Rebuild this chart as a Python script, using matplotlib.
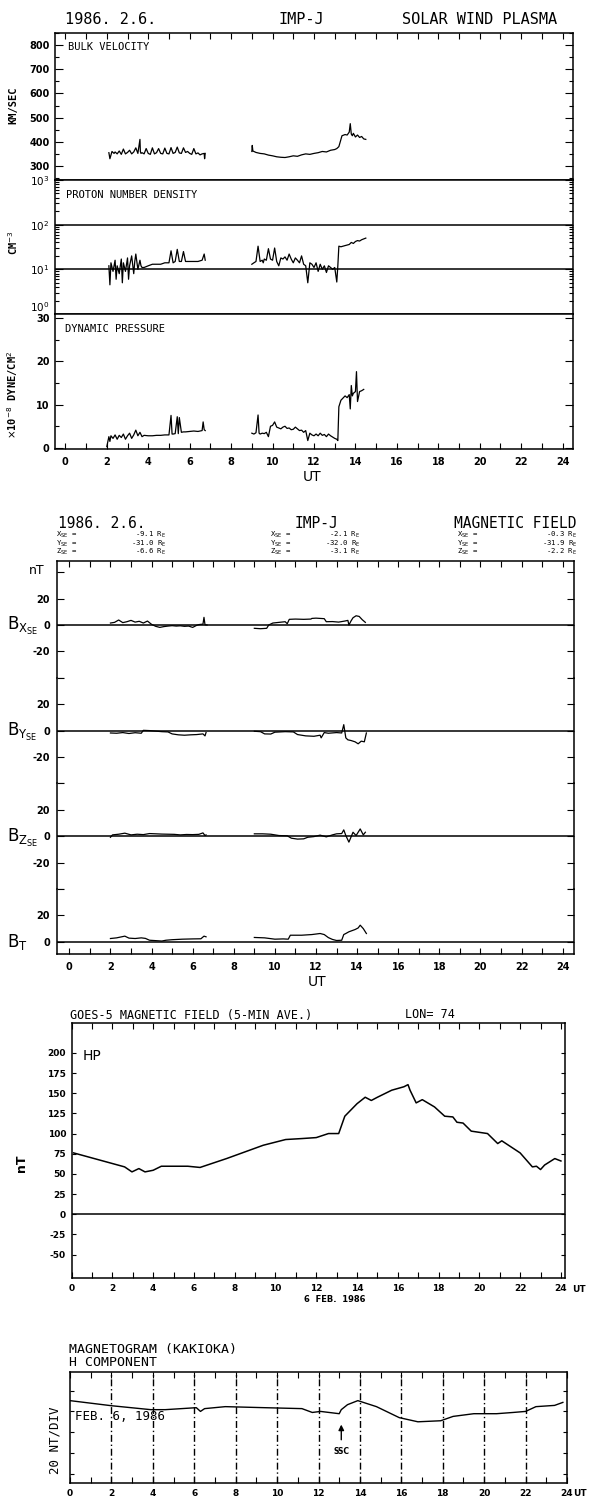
import numpy as np
import matplotlib.pyplot as plt
import matplotlib.transforms as mtransforms
from matplotlib.ticker import MultipleLocator, LogLocator, NullFormatter

plt.rcParams['font.family'] = 'DejaVu Sans'
plt.rcParams['axes.linewidth'] = 1.1
plt.rcParams['xtick.direction'] = 'in'
plt.rcParams['ytick.direction'] = 'in'

MONO = 'DejaVu Sans Mono'

# ---------------- IMP-J solar wind plasma (UT hours) ----------------
vel_t1 = [2.10, 2.15, 2.25, 2.35, 2.40, 2.50, 2.60, 2.70, 2.80, 2.90,
          3.00, 3.10, 3.20, 3.30, 3.40, 3.50, 3.60, 3.62, 3.65, 3.70,
          3.80, 3.90, 4.00, 4.10, 4.20, 4.30, 4.40, 4.50, 4.60, 4.70,
          4.80, 4.90, 5.00, 5.10, 5.20, 5.30, 5.40, 5.50, 5.60, 5.70,
          5.80, 5.90, 6.00, 6.10, 6.20, 6.30, 6.40, 6.50, 6.60, 6.70, 6.72, 6.75]
vel1 = [355, 330, 360, 352, 358, 350, 362, 348, 370, 350,
        356, 365, 350, 358, 375, 352, 410, 360, 352, 355,
        350, 372, 352, 348, 375, 350, 355, 372, 352, 350,
        374, 352, 350, 376, 352, 356, 378, 354, 352, 375,
        356, 360, 352, 348, 372, 350, 354, 346, 350, 352, 330, 352]
vel_t2 = [9.00, 9.02, 9.05, 9.2, 9.4, 9.6, 9.8, 10.0, 10.2, 10.4,
          10.6, 10.8, 11.0, 11.2, 11.4, 11.6, 11.8, 12.0, 12.2, 12.4,
          12.6, 12.8, 13.0, 13.1, 13.2, 13.3, 13.35, 13.5, 13.6, 13.7,
          13.75, 13.8, 13.85, 13.9, 14.0, 14.1, 14.2, 14.3, 14.4, 14.5]
vel2 = [360, 385, 362, 356, 352, 350, 345, 342, 338, 336,
        335, 338, 342, 340, 346, 350, 348, 352, 355, 360,
        358, 365, 368, 372, 380, 410, 425, 430, 428, 440,
        475, 432, 425, 435, 420, 428, 418, 422, 412, 410]

dens_t1 = [2.10, 2.15, 2.2, 2.3, 2.4, 2.45, 2.5, 2.6, 2.7, 2.75,
           2.8, 2.9, 3.0, 3.05, 3.1, 3.2, 3.3, 3.35, 3.4, 3.5,
           3.6, 3.65, 3.7, 3.8, 4.0, 4.2, 4.4, 4.6, 4.8, 4.9,
           5.0, 5.1, 5.2, 5.3, 5.4, 5.5, 5.6, 5.7, 5.8, 6.0,
           6.2, 6.4, 6.6, 6.7, 6.75]
dens1 = [12, 4.5, 14, 9, 16, 6, 12, 8, 17, 5,
         14, 9, 18, 6, 12, 20, 8, 15, 22, 10,
         16, 12, 11, 11, 12, 13, 13, 13, 14, 14,
         14, 26, 14, 15, 28, 15, 15, 25, 15, 15,
         15, 15, 16, 22, 16]
dens_t2 = [9.0, 9.1, 9.2, 9.3, 9.4, 9.5, 9.55, 9.6, 9.7, 9.8,
           9.9, 10.0, 10.1, 10.2, 10.3, 10.4, 10.5, 10.6, 10.7, 10.8,
           10.9, 11.0, 11.1, 11.2, 11.3, 11.4, 11.5, 11.6, 11.7, 11.8,
           11.9, 12.0, 12.1, 12.2, 12.3, 12.4, 12.5, 12.6, 12.7, 12.8,
           12.9, 13.0, 13.1, 13.15, 13.2, 13.3, 13.5, 13.7, 13.8, 13.9,
           14.0, 14.1, 14.2, 14.3, 14.4, 14.5]
dens2 = [13, 14, 15, 33, 15, 16, 14, 17, 16, 29,
         17, 16, 30, 15, 12, 18, 17, 19, 16, 22,
         17, 14, 18, 16, 14, 20, 13, 12, 5, 14,
         13, 11, 14, 9, 13, 10, 12, 8.5, 12, 11,
         10, 11, 5.2, 12, 33, 32, 34, 36, 40, 38,
         42, 44, 43, 46, 48, 50]

pres_t1 = [2.0, 2.1, 2.15, 2.2, 2.3, 2.4, 2.5, 2.6, 2.7, 2.8,
           2.9, 3.0, 3.1, 3.2, 3.3, 3.4, 3.5, 3.6, 3.7, 3.8,
           4.0, 4.2, 4.4, 4.6, 4.8, 5.0, 5.1, 5.15, 5.2, 5.3,
           5.4, 5.45, 5.5, 5.6, 5.7, 5.8, 6.0, 6.2, 6.4, 6.6,
           6.65, 6.7, 6.75]
pres1 = [0.3, 2.6, 1.5, 2.8, 2.2, 3.0, 2.0, 2.9, 2.4, 3.2,
         2.0, 2.8, 3.4, 2.2, 3.0, 4.1, 2.8, 3.6, 2.6, 2.9,
         2.8, 2.8, 2.9, 2.9, 3.0, 3.0, 7.5, 3.2, 3.2, 3.3,
         7.2, 3.3, 7.0, 3.6, 3.7, 3.7, 3.8, 3.9, 3.8, 4.0,
         6.0, 4.2, 4.0]
pres_t2 = [9.0, 9.1, 9.2, 9.3, 9.35, 9.4, 9.5, 9.6, 9.7, 9.8,
           9.9, 10.0, 10.1, 10.2, 10.3, 10.4, 10.5, 10.6, 10.7, 10.8,
           10.9, 11.0, 11.1, 11.2, 11.3, 11.4, 11.5, 11.6, 11.7, 11.8,
           11.9, 12.0, 12.1, 12.2, 12.3, 12.4, 12.5, 12.6, 12.7, 12.8,
           12.9, 13.0, 13.1, 13.15, 13.2, 13.3, 13.4, 13.5, 13.6, 13.7,
           13.75, 13.8, 13.85, 13.9, 14.0, 14.05, 14.1, 14.2, 14.3, 14.4]
pres2 = [3.4, 3.2, 3.5, 7.6, 3.4, 3.2, 3.4, 3.3, 3.6, 2.6,
         5.0, 5.2, 6.0, 4.8, 4.6, 4.4, 4.8, 5.0, 4.5, 4.6,
         4.2, 4.3, 4.8, 4.4, 4.0, 4.1, 3.6, 4.0, 1.7, 3.4,
         3.0, 2.8, 3.2, 2.8, 3.4, 2.9, 3.1, 2.6, 3.2, 2.8,
         2.5, 2.2, 2.0, 1.7, 9.5, 11.0, 11.5, 12.0, 11.6, 12.3,
         9.0, 14.4, 12.0, 12.6, 13.0, 17.6, 10.7, 13.0, 13.2, 13.5]

# ---------------- IMP-J magnetic field (nT) ----------------
bx_t1 = [2.0, 2.2, 2.4, 2.6, 2.8, 3.0, 3.2, 3.4, 3.6, 3.8,
         4.0, 4.2, 4.4, 4.6, 4.8, 5.0, 5.2, 5.4, 5.6, 5.8,
         6.0, 6.2, 6.3, 6.4, 6.5, 6.55, 6.6, 6.7]
bx1 = [1.5, 2.0, 3.8, 1.8, 2.5, 3.5, 2.2, 2.8, 1.5, 3.0,
       0.5, -1.0, -1.8, -1.2, -0.8, -0.5, -0.8, -0.6, -1.0, -0.8,
       -1.8, -0.2, 0.3, 0.5, 0.6, 5.8, 0.2, 0.0]
bx_t2 = [9.0, 9.3, 9.6, 9.7, 9.9, 10.2, 10.5, 10.6, 10.7, 11.0,
         11.4, 11.75, 11.8, 12.0, 12.2, 12.4, 12.5, 12.8, 13.1, 13.4,
         13.55, 13.6, 13.7, 13.8, 13.95, 14.1, 14.25, 14.4]
bx2 = [-2.5, -2.8, -2.5, 0.0, 1.5, 2.0, 2.5, 1.0, 4.3, 4.5,
       4.3, 4.5, 5.0, 5.2, 5.0, 4.8, 2.5, 2.6, 2.2, 3.0,
       3.5, 0.0, 3.0, 5.5, 7.0, 6.5, 4.0, 2.0]

by_t1 = [2.0, 2.3, 2.6, 2.9, 3.2, 3.5, 3.6, 3.9, 4.2, 4.5,
         4.8, 5.0, 5.3, 5.6, 5.9, 6.2, 6.5, 6.6, 6.65]
by1 = [-1.8, -2.0, -1.5, -2.2, -1.6, -2.0, 0.2, 0.0, -0.4, -0.8,
       -1.0, -2.5, -3.2, -3.5, -3.2, -3.0, -2.5, -4.0, -1.5]
by_t2 = [9.0, 9.3, 9.5, 9.8, 10.0, 10.5, 10.9, 11.1, 11.5, 11.9,
         12.2, 12.25, 12.4, 12.6, 13.0, 13.25, 13.35, 13.45, 13.55, 13.7,
         13.9, 14.05, 14.2, 14.35, 14.45]
by2 = [-0.5, -0.8, -2.5, -2.6, -1.2, -0.8, -1.0, -3.0, -4.0, -4.3,
       -3.5, -5.5, -1.5, -2.0, -1.5, -1.8, 4.5, -5.5, -7.0, -7.5,
       -8.5, -10.0, -8.0, -8.5, -1.8]

bz_t1 = [2.0, 2.1, 2.4, 2.7, 3.0, 3.3, 3.6, 3.9, 4.2, 4.5,
         4.8, 5.1, 5.4, 5.7, 6.0, 6.3, 6.5, 6.6, 6.65]
bz1 = [-0.8, 1.0, 1.5, 2.3, 1.0, 1.5, 1.2, 2.0, 1.8, 1.6,
       1.5, 1.4, 1.0, 1.3, 1.2, 1.4, 2.5, 0.5, 1.0]
bz_t2 = [9.0, 9.4, 9.8, 10.2, 10.6, 10.8, 11.1, 11.4, 11.6, 11.9,
         12.2, 12.5, 12.8, 13.0, 13.25, 13.35, 13.45, 13.6, 13.8, 13.95,
         14.15, 14.3, 14.4]
bz2 = [1.8, 1.8, 1.5, 0.5, 0.3, -1.5, -2.2, -2.0, -0.8, -0.3,
       0.8, -0.5, 1.0, 1.8, 2.0, 4.8, 0.5, -4.5, 3.0, 0.5,
       5.5, 1.0, 3.0]

bt_t1 = [2.0, 2.3, 2.7, 2.9, 3.2, 3.5, 3.7, 3.9, 4.2, 4.5,
         4.7, 5.0, 5.5, 6.0, 6.4, 6.55, 6.65]
bt1 = [2.5, 3.0, 4.3, 2.8, 2.5, 3.0, 2.6, 1.2, 0.9, 0.6,
       1.2, 1.6, 2.0, 2.2, 2.3, 4.3, 3.8]
bt_t2 = [9.0, 9.5, 10.0, 10.4, 10.65, 10.75, 11.3, 11.8, 12.2, 12.4,
         12.6, 12.8, 13.0, 13.25, 13.35, 13.45, 13.6, 13.9, 14.05, 14.15,
         14.3, 14.45]
bt2 = [3.3, 3.0, 2.0, 2.2, 2.0, 5.0, 5.0, 5.5, 6.3, 5.5,
       3.2, 1.8, 1.0, 1.2, 5.5, 6.3, 7.6, 9.3, 10.5, 12.6,
       10.0, 6.3]

# spacecraft position (Re) at start / middle / end
pos_x = ['-9.1', '-2.1', '-0.3']
pos_y = ['-31.0', '-32.0', '-31.9']
pos_z = ['-6.6', '-3.1', '-2.2']

# ---------------- GOES-5 HP ----------------
goes_t = [0.1, 2.6, 2.96, 3.3, 3.6, 4.0, 4.4, 5.7, 6.3, 7.6,
          9.4, 10.5, 11.3, 12.0, 12.6, 13.1, 13.4, 14.0, 14.4, 14.7,
          15.0, 15.7, 16.3, 16.5, 16.6, 16.9, 17.2, 17.8, 18.3, 18.7,
          18.9, 19.2, 19.6, 20.4, 20.9, 21.1, 22.0, 22.6, 22.8, 23.0,
          23.2, 23.7, 24.0]
goes_hp = [76, 58.7, 52.5, 56.6, 52.5, 54.5, 59.5, 59.5, 58, 69,
           85.5, 92.6, 93.8, 95, 100, 100, 121.5, 137, 145, 141,
           145, 153.7, 158, 160.6, 153.7, 138, 142, 133, 121.5, 120.6,
           114, 113, 103, 100, 87.6, 91, 76, 58.7, 59.5, 55.4,
           61, 69, 66]

# ---------------- Kakioka H component (relative nT) ----------------
mag_t = [0.0, 2.0, 3.9, 4.6, 6.1, 6.3, 6.5, 7.5, 9.4, 11.2,
         11.7, 12.1, 13.0, 13.1, 13.4, 13.9, 14.8, 15.9, 16.8, 17.9,
         18.5, 19.5, 20.6, 21.4, 22.0, 22.5, 23.4, 23.8]
mag_h = [70.4, 65.5, 61.7, 61.7, 63.6, 60, 62.7, 64.6, 63.6, 62.7,
         59, 60, 57.8, 61.7, 66.5, 70.4, 64.6, 54, 50, 51,
         55.2, 57.8, 57.8, 59, 60, 64.6, 65.8, 68.7]
ssc_time = 13.1

W, H = 591, 1499
fig = plt.figure(figsize=(W / 100, H / 100), dpi=100)


def box(x0, y0, x1, y1):
    # pixel box measured from the top-left -> figure fraction
    return [x0 / W, 1 - y1 / H, (x1 - x0) / W, (y1 - y0) / H]


def ftext(x, y, s, **kw):
    kw.setdefault('va', 'center')
    fig.text(x / W, 1 - y / H, s, **kw)


hours = np.arange(0, 25, 1)
hour_labels = [str(h) if h % 2 == 0 else '' for h in hours]
TICKFONT = dict(fontsize=7, fontweight='bold')

# ======================= Panel 1 : solar wind plasma =======================
ax_v = fig.add_axes(box(55, 33, 573, 180))
ax_n = fig.add_axes(box(55, 180, 573, 314))
ax_p = fig.add_axes(box(55, 314, 573, 449))
for ax in (ax_v, ax_n, ax_p):
    ax.set_xlim(-0.5, 24.5)
    ax.set_xticks(hours)
    ax.tick_params(axis='x', which='both', bottom=False, top=False, labelbottom=False, length=4, width=0.8)
    ax.tick_params(axis='y', which='both', left=True, right=True, width=0.8, pad=4)
    ax.tick_params(axis='y', which='major', length=6)
    ax.tick_params(axis='y', which='minor', length=3)

ax_v.tick_params(axis='x', top=True)
ax_v.plot(vel_t1, vel1, color='k', lw=0.9)
ax_v.plot(vel_t2, vel2, color='k', lw=0.9)
ax_v.set_ylim(242, 850)
ax_v.set_yticks([300, 400, 500, 600, 700, 800], ['300', '400', '500', '600', '700', '800'], **TICKFONT)
ax_v.yaxis.set_minor_locator(MultipleLocator(50))

ax_n.set_yscale('log')
ax_n.plot(dens_t1, dens1, color='k', lw=0.9)
ax_n.plot(dens_t2, dens2, color='k', lw=0.9)
ax_n.set_ylim(1, 1000)
ax_n.set_yticks([1, 10, 100, 1000], [r'$10^0$', r'$10^1$', r'$10^2$', r'$10^3$'], fontsize=7.5)
ax_n.yaxis.set_minor_locator(LogLocator(base=10, subs=np.arange(2, 10) * 1.0))
ax_n.yaxis.set_minor_formatter(NullFormatter())
ax_n.axhline(10, color='k', lw=1.1)
ax_n.axhline(100, color='k', lw=1.1)
ax_n.yaxis.get_major_ticks()[0].label1.set_va('bottom')

ax_p.plot(pres_t1, pres1, color='k', lw=0.9)
ax_p.plot(pres_t2, pres2, color='k', lw=0.9)
ax_p.set_ylim(-0.25, 30.9)
ax_p.set_yticks([0, 10, 20, 30], ['0', '10', '20', '30'], **TICKFONT)
ax_p.yaxis.set_minor_locator(MultipleLocator(5))
ax_p.set_xticks(hours, hour_labels, **TICKFONT)
ax_p.tick_params(axis='x', bottom=True, labelbottom=True, pad=6)

ftext(65, 19, '1986. 2.6.', family=MONO, fontsize=11)
ftext(301, 19, 'IMP-J', family=MONO, fontsize=11, ha='center')
ftext(557, 19, 'SOLAR WIND PLASMA', family=MONO, fontsize=11, ha='right')
ftext(68, 47, 'BULK VELOCITY', family=MONO, fontsize=7.5)
ftext(66, 195, 'PROTON NUMBER DENSITY', family=MONO, fontsize=7.5)
ftext(65, 329, 'DYNAMIC PRESSURE', family=MONO, fontsize=7.5)
ftext(13, 105, 'KM/SEC', family=MONO, fontsize=7.5, rotation=90, ha='center', fontweight='bold')
ftext(13, 243, r'CM$^{-3}$', family=MONO, fontsize=7.5, rotation=90, ha='center', fontweight='bold')
ftext(13, 395, r'$\times$10$^{-8}$ DYNE/CM$^2$', family=MONO, fontsize=7.5, rotation=90, ha='center',
      fontweight='bold')
ftext(312, 477, 'UT', fontsize=10, ha='center')

# ======================= Panel 2 : magnetic field =======================
bounds = [561, 677.8, 783.4, 889.0, 954.1]
ylims = [(-40, 48.5), (-40, 40), (-40, 40), (-9.3, 40)]
traces = [((bx_t1, bx1), (bx_t2, bx2)), ((by_t1, by1), (by_t2, by2)),
          ((bz_t1, bz1), (bz_t2, bz2)), ((bt_t1, bt1), (bt_t2, bt2))]
names = [r'B$_{\mathrm{X}_{\mathrm{SE}}}$', r'B$_{\mathrm{Y}_{\mathrm{SE}}}$',
         r'B$_{\mathrm{Z}_{\mathrm{SE}}}$', r'B$_{\mathrm{T}}$']
bax = []
for i in range(4):
    ax = fig.add_axes(box(57, bounds[i], 574, bounds[i + 1]))
    bax.append(ax)
    ax.set_xlim(-0.6, 24.55)
    ax.set_ylim(*ylims[i])
    for seg_t, seg_v in traces[i]:
        ax.plot(seg_t, seg_v, color='k', lw=0.9)
    ax.axhline(0, color='k', lw=1.1)
    ticks = [t for t in (-40, -20, 0, 20, 40) if ylims[i][0] <= t <= ylims[i][1]]
    labels = [('' if abs(t) == 40 else str(t)) for t in ticks]
    ax.set_yticks(ticks, labels, **TICKFONT)
    ax.tick_params(axis='y', left=True, right=True, length=5, width=0.8, pad=5)
    ax.set_xticks(hours)
    ax.tick_params(axis='x', bottom=False, top=False, labelbottom=False, length=4, width=0.8)
    if i > 0:
        ax.spines['top'].set_visible(False)
    if i < 3:
        ax.spines['bottom'].set_visible(False)
    tr = mtransforms.blended_transform_factory(ax.transAxes, ax.transData)
    ax.text(-0.097, -4, names[i], transform=tr, fontsize=12, ha='left', va='baseline')

bax[0].tick_params(axis='x', top=True)
tr0 = mtransforms.blended_transform_factory(bax[0].transAxes, bax[0].transData)
bax[0].text(-0.04, 41, 'nT', transform=tr0, fontsize=9, ha='center', va='center')
bax[3].set_xticks(hours, hour_labels, **TICKFONT)
bax[3].tick_params(axis='x', bottom=True, labelbottom=True, pad=6)

ftext(58, 524, '1986. 2.6.', family=MONO, fontsize=10.5)
ftext(316, 523, 'IMP-J', family=MONO, fontsize=10.5, ha='center')
ftext(577, 524, 'MAGNETIC FIELD', family=MONO, fontsize=10.5, ha='right')
col_left = [56, 270, 457]
col_right = [166, 360, 577]
for row_y, comp, vals in ((535, 'X', pos_x), (543.5, 'Y', pos_y), (552, 'Z', pos_z)):
    for c in range(3):
        ftext(col_left[c], row_y, comp + r'$_{\mathrm{SE}}$ =', family=MONO, fontsize=5.2)
        ftext(col_right[c], row_y, vals[c] + r' R$_{\mathrm{E}}$', family=MONO, fontsize=5.2, ha='right')
ftext(317, 982, 'UT', fontsize=10, ha='center')

# ======================= Panel 3 : GOES-5 =======================
ax_g = fig.add_axes(box(71.6, 1023, 565, 1278))
ax_g.plot(goes_t, goes_hp, color='k', lw=1.1)
ax_g.axhline(0, color='k', lw=1.1)
ax_g.set_xlim(0, 24.2)
ax_g.set_ylim(-79, 237)
gt = list(range(-50, 201, 25))
ax_g.set_yticks(gt, [str(v) for v in gt], fontsize=6.5, fontweight='bold')
ax_g.tick_params(axis='y', left=True, right=True, length=3, width=0.8, pad=4)
ax_g.set_xticks(hours, hour_labels, fontsize=6.5, fontweight='bold')
ax_g.tick_params(axis='x', top=True, bottom=True, length=4, width=0.8, pad=4)
ftext(70, 1015, 'GOES-5 MAGNETIC FIELD (5-MIN AVE.)', family=MONO, fontsize=8.5)
ftext(405, 1015, 'LON= 74', family=MONO, fontsize=8.5)
ftext(83, 1056, 'HP', fontsize=10)
ftext(22, 1163, 'nT', fontsize=9, rotation=90, ha='center', fontweight='bold')
ftext(572, 1289, 'UT', fontsize=6.5, ha='left', fontweight='bold')
ftext(335, 1299, '6  FEB.  1986', fontsize=6, ha='center', fontweight='bold')

# ======================= Panel 4 : Kakioka magnetogram =======================
ax_m = fig.add_axes(box(70, 1372, 567, 1483))
ax_m.plot(mag_t, mag_h, color='k', lw=1.0)
for h in range(2, 24, 2):
    ax_m.axvline(h, color='k', lw=1.0, linestyle=(0, (5, 2, 1, 2)))
ax_m.set_xlim(0, 24)
ax_m.set_ylim(-9, 98)
ax_m.set_yticks([0, 20, 40, 60, 80], [])
ax_m.tick_params(axis='y', left=True, right=True, length=3, width=0.8)
ax_m.set_xticks(hours, hour_labels, fontsize=6.5, fontweight='bold')
ax_m.tick_params(axis='x', top=True, bottom=True, length=4, width=0.8, pad=4)
ax_m.annotate('', xy=(ssc_time, 50), xytext=(ssc_time, 30),
              arrowprops=dict(arrowstyle='-|>', color='k', lw=1.0, mutation_scale=8))
ax_m.text(ssc_time, 21, 'SSC', fontsize=5.5, fontweight='bold', ha='center', va='center')
ax_m.text(0.25, 55, 'FEB. 6, 1986', family=MONO, fontsize=9, ha='left', va='center')
ftext(69, 1350, 'MAGNETOGRAM (KAKIOKA)', family=MONO, fontsize=9.5)
ftext(69, 1362.5, 'H COMPONENT', family=MONO, fontsize=9.5)
ftext(55, 1440, '20 NT/DIV', family=MONO, fontsize=9, rotation=90, ha='center')
ftext(573, 1494, 'UT', fontsize=6.5, ha='left', fontweight='bold')

fig.savefig('out.png', dpi=100, facecolor='white')
